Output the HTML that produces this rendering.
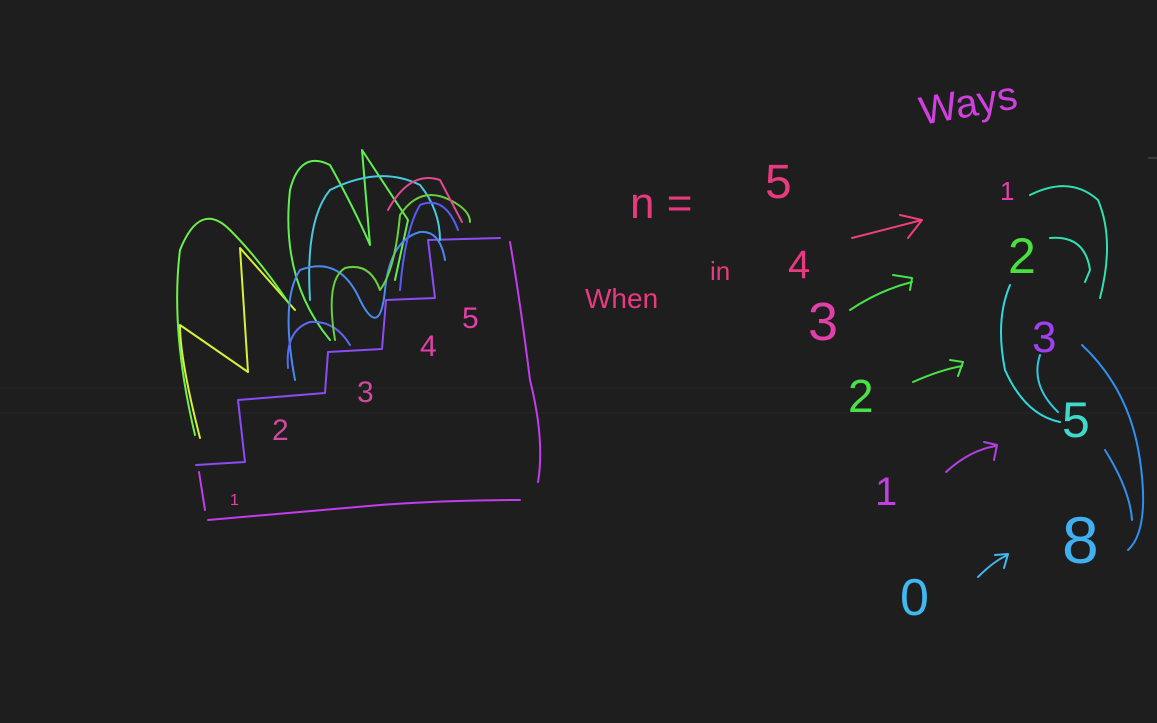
<!DOCTYPE html>
<html><head><meta charset="utf-8"><style>
html,body{margin:0;padding:0;background:#1e1e1e;width:1157px;height:723px;overflow:hidden}
svg{display:block}
text{font-family:"Liberation Sans",sans-serif;font-weight:normal}
path{fill:none;stroke-width:2;stroke-linecap:round;stroke-linejoin:round}
</style></head><body>
<svg width="1157" height="723">
<rect width="1157" height="723" fill="#1e1e1e"/>
<line x1="0" y1="388" x2="1157" y2="388" stroke="#262626"/>
<line x1="0" y1="413" x2="1157" y2="413" stroke="#262626"/>
<line x1="1148" y1="158" x2="1157" y2="158" stroke="#555"/>

<g>
<path stroke="#8b4cf5" d="M196,465 L245,462 L238,400 L325,393 L328,352 L382,349 L386,300 L435,298 L428,240 L500,238"/>
<path stroke="#c23cf0" d="M510,242 Q520,300 530,380 Q545,440 538,482"/>
<path stroke="#c23cf0" d="M208,520 Q300,512 380,505 Q450,500 520,500"/>
<path stroke="#c23cf0" d="M199,472 L205,510"/>
</g>

<g>
<path stroke="#d8f03a" d="M200,438 Q180,360 180,325 L248,372 L240,248 L295,310"/>
<path stroke="#6ff04a" d="M195,435 Q170,330 180,250 Q200,200 230,230 Q260,260 290,305"/>
<path stroke="#5ff050" d="M330,340 Q280,280 290,190 Q300,150 330,165 Q355,210 370,245 L362,150 L408,220 L395,280"/>
<path stroke="#4ac8e0" d="M310,300 Q305,220 330,190 Q380,165 420,185 Q440,210 440,240"/>
<path stroke="#4a8af0" d="M295,380 Q280,300 300,270 Q340,255 360,300 Q380,340 385,290 Q390,240 420,232 Q440,230 445,260"/>
<path stroke="#5a6af5" d="M288,368 Q285,330 310,322 Q335,320 350,345"/>
<path stroke="#6ad040" d="M335,340 Q325,280 345,268 Q370,262 380,290 Q395,270 400,215 Q420,185 450,200 Q470,210 470,222"/>
<path stroke="#e04a90" d="M388,210 Q410,170 440,180 L462,222"/>
<path stroke="#5a5af5" d="M400,290 Q405,230 420,205 Q445,195 458,230"/>
</g>

<g fill="#e040a8" font-size="30">
<text x="230" y="505" font-size="16">1</text>
<text x="272" y="440" fill="#d04aa0">2</text>
<text x="357" y="402" fill="#d04aa0">3</text>
<text x="420" y="356">4</text>
<text x="462" y="328">5</text>
</g>

<g>
<text x="630" y="218" fill="#e83a80" font-size="44">n =</text>
<text x="765" y="198" fill="#e83a80" font-size="48">5</text>
<text x="585" y="308" fill="#e83a80" font-size="28">When</text>
<text x="710" y="280" fill="#e83a80" font-size="26">in</text>
<text x="788" y="278" fill="#e83a80" font-size="40">4</text>
<text x="922" y="125" fill="#d040e0" font-size="40" transform="rotate(-10 922 125)">Ways</text>
</g>

<g>
<text x="808" y="340" fill="#e040a8" font-size="54">3</text>
<text x="848" y="412" fill="#4ae04a" font-size="46">2</text>
<text x="875" y="505" fill="#c040e0" font-size="40">1</text>
<text x="900" y="615" fill="#40b8f0" font-size="52">0</text>
</g>

<g>
<path stroke="#f0407a" d="M852,238 L922,220 M900,215 L922,220 L908,238"/>
<path stroke="#4ae04a" d="M850,310 Q880,290 912,282 M893,275 L912,278 L910,290"/>
<path stroke="#4ae04a" d="M913,382 Q940,370 962,366 M950,360 L963,362 L958,376"/>
<path stroke="#b040e0" d="M946,472 Q970,450 996,446 M984,442 L997,445 L994,460"/>
<path stroke="#40b8f0" d="M978,577 Q995,560 1008,555 M995,555 L1008,554 L1004,568"/>
</g>

<g>
<text x="1000" y="200" fill="#e040a8" font-size="26">1</text>
<text x="1008" y="273" fill="#4ae040" font-size="50">2</text>
<text x="1032" y="352" fill="#a040f0" font-size="44">3</text>
<text x="1062" y="437" fill="#40d8c8" font-size="50">5</text>
<text x="1062" y="563" fill="#40b0f0" font-size="66">8</text>
</g>

<g>
<path stroke="#30e0b0" d="M1030,195 Q1070,175 1098,200 Q1115,240 1100,298"/>
<path stroke="#30e0b0" d="M1050,238 Q1085,235 1090,270 L1085,282"/>
<path stroke="#30d8e0" d="M1010,285 Q995,320 1005,370 Q1025,415 1060,422"/>
<path stroke="#30c8e0" d="M1040,355 Q1030,385 1058,412"/>
<path stroke="#3090f0" d="M1082,345 Q1130,390 1140,460 Q1150,530 1128,550"/>
<path stroke="#3090f0" d="M1105,450 Q1130,490 1132,520"/>
</g>
</svg>
</body></html>
